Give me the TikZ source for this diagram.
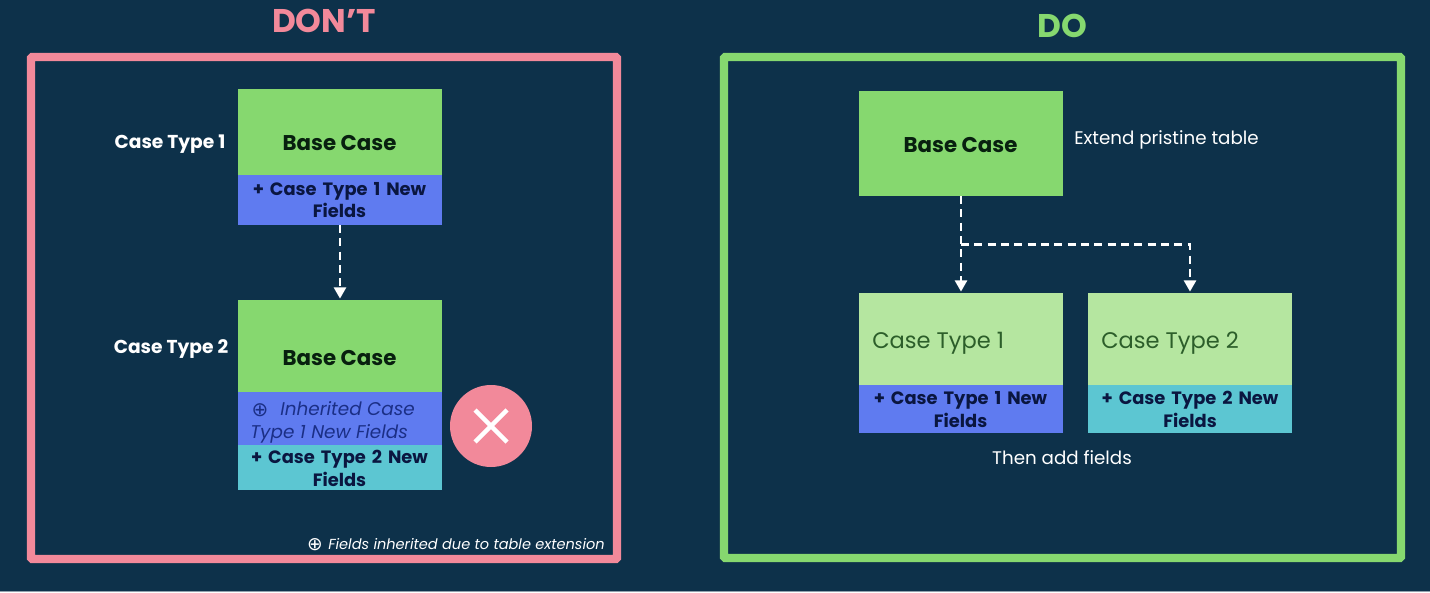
\documentclass[tikz,border=0pt]{standalone}
\usepackage{fontspec}
\setmainfont{Poppins}
\newfontfamily\symfont{DejaVu Sans}
\usetikzlibrary{arrows.meta,calc}
\definecolor{bg}{HTML}{0D314A}
\definecolor{pinkc}{HTML}{F2899A}
\definecolor{greenc}{HTML}{86D86F}
\definecolor{lightg}{HTML}{B5E6A0}
\definecolor{bluec}{HTML}{5F7BF0}
\definecolor{tealc}{HTML}{5CC6D2}
\definecolor{inkc}{HTML}{08200F}
\definecolor{navyc}{HTML}{0A1640}
\definecolor{bluetx}{HTML}{1B2F86}
\definecolor{darkg}{HTML}{2C5E2A}
\newcommand{\fz}[1]{\fontsize{#1pt}{\dimexpr#1pt*128/100\relax}\selectfont}
\tikzset{
  x=0.75pt,y=-0.75pt,
  framebox/.style={draw,line width=6.2pt,rounded corners=1pt},
  blk/.style={inner sep=0pt,outer sep=0pt,minimum width=153pt,anchor=north west},
  captx/.style={font=\fz{13.4}\bfseries,text=navyc,align=center,inner sep=0,text width=150pt},
  basetx/.style={font=\fz{16}\bfseries,text=inkc,inner sep=0},
  side/.style={font=\fz{14}\bfseries,text=white,inner sep=0},
  plain/.style={font=\fz{13.7},text=white,inner sep=0},
  dashline/.style={draw=white,line width=2pt,dash pattern=on 6pt off 4pt},
  arrowline/.style={dashline,-{Triangle[width=9pt,length=8.5pt,fill=white]},shorten >=1pt},
}
\begin{document}
\begin{tikzpicture}
\useasboundingbox (0,0) rectangle (1430,592);
\fill[bg] (0,0) rectangle (1430,592);
\fill[white!55!bg] (0,590.7) rectangle (1430,592);
\node[font=\fz{24.6}\bfseries,text=pinkc,inner sep=0] (t1) at (324,21) {DON’T};
\node[font=\fz{24.6}\bfseries,text=greenc,inner sep=0] (t2) at (1062,26) {DO};
\draw[framebox,draw=pinkc] (31,57) rectangle (617,559);
\draw[framebox,draw=greenc] (724,57) rectangle (1401,558);
% left column
\node[blk,fill=greenc,minimum height=64.5pt] (a1) at (238,89) {};
\node[blk,fill=bluec,minimum height=37.5pt] (a2) at (238,175) {};
\node[basetx] (a1t) at (339.5,143) {Base Case};
\node[captx] (a2t) at (339.5,200) {+ Case Type 1 New\\Fields};
\node[blk,fill=greenc,minimum height=69pt] (b1) at (238,300) {};
\node[blk,fill=bluec,minimum height=39.75pt] (b2) at (238,392) {};
\node[blk,fill=tealc,minimum height=33.75pt] (b3) at (238,445) {};
\node[basetx] (b1t) at (339.5,358.5) {Base Case};
\node[font=\fz{13.8}\itshape,text=bluetx,align=left,inner sep=0,anchor=west] (b2t) at (250,422.5) {\makebox[22.5pt][l]{\smash{\hspace{1pt}\raisebox{-0.5pt}{\symfont\upshape\fz{15}⊕}}}Inherited Case\\Type 1 New Fields};
\node[captx] (b3t) at (339.5,468) {+ Case Type 2 New\\Fields};
\node[side] (l1) at (170,144.5) {Case Type 1};
\node[side] (l2) at (171,349.5) {Case Type 2};
\draw[arrowline] (a2.south) -- (b1.north);
\node[circle,fill=pinkc,minimum size=61.5pt,inner sep=0] (xc) at (491,426) {};
\draw[white,line width=3.4pt] ($(xc)+(-16,-16)$) -- ($(xc)+(16,16)$);
\draw[white,line width=3.4pt] ($(xc)+(-16,16)$) -- ($(xc)+(16,-16)$);
\node[font=\fz{10.9}\itshape,text=white,inner sep=0,anchor=east] (note) at (605,544) {Fields inherited due to table extension};
\node[font=\symfont\fz{14},text=white,inner sep=0,anchor=east] (notem) at (323,545) {⊕};
% right column
\node[blk,fill=greenc,minimum height=78.75pt] (c0) at (859,91) {};
\node[basetx] (c0t) at (960.5,145) {Base Case};
\node[plain,anchor=west] (ext) at (1074,140) {Extend pristine table};
\node[blk,fill=lightg,minimum height=69pt] (d1) at (859,293) {};
\node[blk,fill=bluec,minimum height=36pt] (d2) at (859,385) {};
\node[blk,fill=lightg,minimum height=69pt] (e1) at (1088,293) {};
\node[blk,fill=tealc,minimum height=36pt] (e2) at (1088,385) {};
\node[font=\fz{16.9},text=darkg,inner sep=0,anchor=west] (d1t) at (872,343) {Case Type 1};
\node[font=\fz{16.9},text=darkg,inner sep=0,anchor=west] (e1t) at (1101,343) {Case Type 2};
\node[captx] (d2t) at (960.5,409.5) {+ Case Type 1 New\\Fields};
\node[captx] (e2t) at (1190,409.5) {+ Case Type 2 New\\Fields};
\node[plain] (then) at (1062,458) {Then add fields};
\coordinate (br) at ($(c0.south)!0.5!(d1.north)$);
\draw[arrowline] (c0.south) -- (d1.north);
\draw[arrowline] (br) -| (e1.north);
\end{tikzpicture}
\end{document}
